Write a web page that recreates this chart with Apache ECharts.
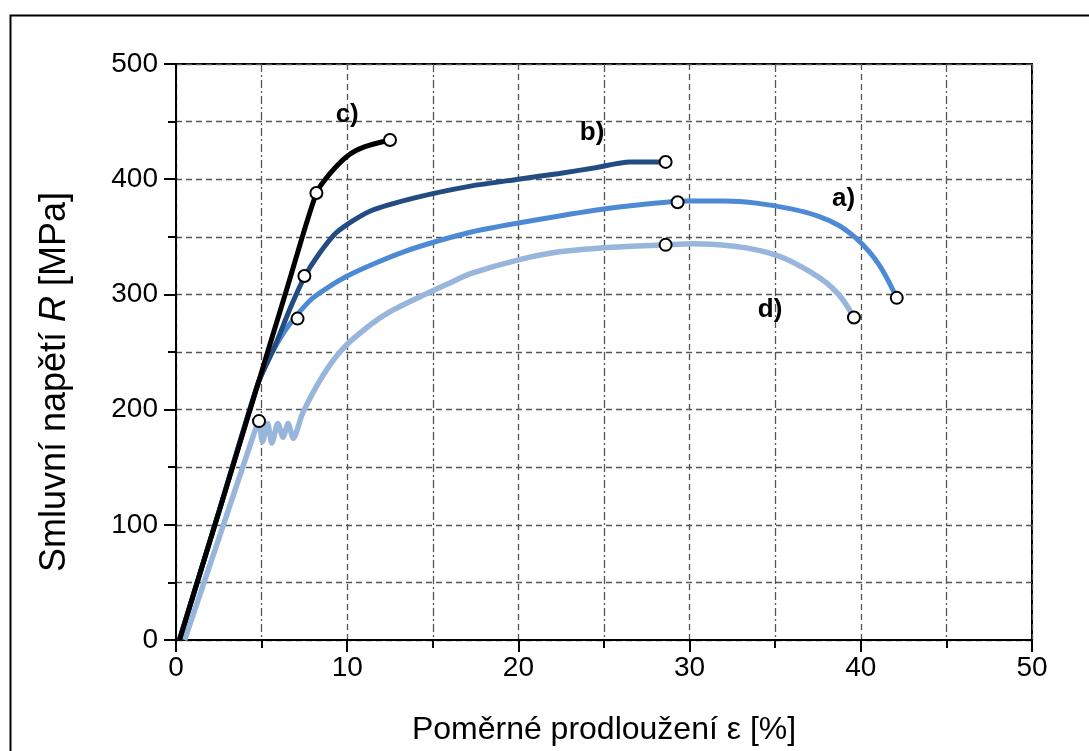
<!DOCTYPE html>
<html>
<head>
<meta charset="utf-8">
<script src="https://cdn.jsdelivr.net/npm/echarts@6/dist/echarts.min.js"></script>
<style>
html,body{margin:0;padding:0;background:#fff;}
#chart{width:1089px;height:751px;}
</style>
</head>
<body>
<div id="chart"></div>
<script>
// krivky [epsilon %, R MPa]
var curveA = [[0.2,0],[2.5,111],[4.8,223],[5.6,249],[6.3,267],[7,281],[8,297],[10,316],[13.3,337],[17.2,354],[22.4,368],[26,376],[30,381],[32,381],[34,379],[36,374],[37.5,368],[38.7,360],[39.7,349],[40.5,337],[41.1,325],[41.6,312],[42.1,297]];
var curveB = [[0.2,0],[2.5,111],[4.8,223],[5.8,256],[6.7,289],[7.5,315],[8.3,334],[9.4,354],[11.3,372],[14,384],[17.2,394],[20,400],[22.4,405],[24.5,410],[26.5,415],[28.6,415]];
var curveC = [[0.2,0],[2.5,111],[4.8,223],[6.5,306],[8.2,388],[9,405],[10,420],[11,428],[12.5,434]];
var curveD = [[0.5,0],[2.5,88],[4.6,181],[4.85,190],[5.05,172],[5.35,188],[5.6,171],[5.95,188],[6.25,176],[6.55,188],[6.85,175],[7.4,197],[8.6,230],[9.75,253],[11.3,273],[12.5,285],[14.25,298],[16,310],[17.2,318],[20,330],[22.4,337],[25.5,341],[28.6,343],[30.2,344],[32.5,342],[34.1,338],[35.6,331],[37,320],[38,310],[38.7,300],[39.2,290],[39.6,280]];

// body (krouzky)
var markersA = [[7.1,279],[29.3,380],[42.1,297]];
var markersB = [[7.5,316],[28.6,415]];
var markersC = [[8.2,388],[12.5,434]];
var markersD = [[4.85,190],[28.6,343],[39.6,280]];

// popisky krivek
var labelNames = ['a)','b)','c)','d)'];
var labelPos = [[39,383],[24.3,440],[10,456],[34.7,287]];

var chart = echarts.init(document.getElementById('chart'));

function line(data, color, width){
    return {
        type:'line',
        data:data,
        smooth:0.25,
        showSymbol:false,
        lineStyle:{color:color,width:width},
        z:3
    };
}
function pts(data){
    return {
        type:'scatter',
        data:data,
        symbol:'circle',
        symbolSize:12,
        itemStyle:{color:'#fff',borderColor:'#000',borderWidth:2,opacity:1},
        z:5
    };
}

var font = 'Liberation Sans, Arial, sans-serif';

var option = {
    backgroundColor:'#fff',
    animation:false,
    graphic:[{
        type:'rect',
        left:8, top:13,
        shape:{width:1100,height:800},
        style:{fill:'none',stroke:'#000',lineWidth:2},
        silent:true
    }],
    grid:{left:176,right:57,top:64,bottom:108,show:true,borderColor:'#000',borderWidth:2},
    xAxis:{
        type:'value',
        min:0,max:50,interval:10,
        name:'Poměrné prodloužení ε [%]',
        nameLocation:'middle',
        nameGap:74,
        nameTextStyle:{fontFamily:font,fontSize:32,color:'#000'},
        axisLine:{lineStyle:{color:'#000',width:2}},
        axisTick:{length:12,lineStyle:{color:'#000',width:2}},
        minorTick:{show:true,splitNumber:2,length:8,lineStyle:{color:'#000',width:2}},
        axisLabel:{fontFamily:font,fontSize:28,color:'#000',margin:14},
        splitLine:{lineStyle:{color:'#555',type:[6,4],width:1.3}},
        minorSplitLine:{show:true,lineStyle:{color:'#555',type:[8,3,2,3],width:1.3}}
    },
    yAxis:{
        type:'value',
        min:0,max:500,interval:100,
        name:'Smluvní napětí {i|R} [MPa]',
        nameLocation:'middle',
        nameGap:103,
        nameTextStyle:{fontFamily:font,fontSize:36,color:'#000',padding:[0,60,0,0],
            rich:{i:{fontFamily:font,fontSize:36,fontStyle:'italic',color:'#000'}}},
        axisLine:{lineStyle:{color:'#000',width:2}},
        axisTick:{length:12,lineStyle:{color:'#000',width:2}},
        minorTick:{show:true,splitNumber:2,length:8,lineStyle:{color:'#000',width:2}},
        axisLabel:{fontFamily:font,fontSize:28,color:'#000',margin:18},
        splitLine:{lineStyle:{color:'#555',type:[6,4],width:1.3}},
        minorSplitLine:{show:true,lineStyle:{color:'#555',type:[6,4],width:1.3}}
    },
    series:[
        line(curveD,'#98b6db',5.5),
        line(curveA,'#4d8ad6',5),
        line(curveB,'#234d82',5),
        line(curveC,'#000000',5),
        pts(markersA),pts(markersB),pts(markersC),pts(markersD),
        {
            type:'scatter',
            symbolSize:0,
            itemStyle:{opacity:1},
            data:labelPos.map(function(p,i){return {value:p,name:labelNames[i]};}),
            label:{show:true,position:'inside',formatter:'{b}',fontFamily:font,fontSize:26,fontWeight:'bold',color:'#000'},
            z:6
        }
    ]
};
chart.setOption(option);
</script>
</body>
</html>
